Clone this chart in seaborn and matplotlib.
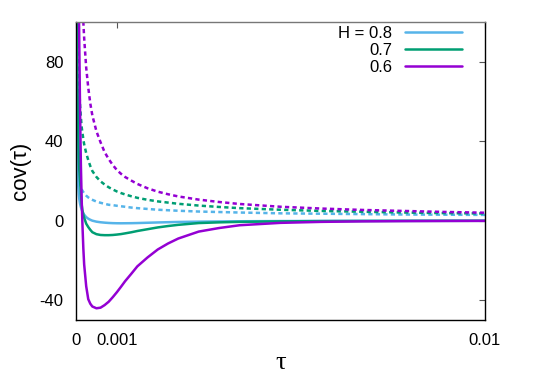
import matplotlib
matplotlib.use("Agg")
import matplotlib.pyplot as plt
import seaborn as sns

# tau grid (same for every curve)
tau = [0.000003, 0.00001, 0.00002, 0.00003, 0.00005, 0.00007, 0.00008, 0.0001,
       0.00012, 0.00014, 0.00016, 0.00018, 0.0002, 0.00025, 0.0003, 0.00035,
       0.0004, 0.0005, 0.0006, 0.0007, 0.0008, 0.0009, 0.001, 0.0011, 0.0012,
       0.00135, 0.0015, 0.00175, 0.002, 0.00225, 0.0025, 0.003, 0.0035, 0.004,
       0.005, 0.006, 0.007, 0.008, 0.009, 0.01]

# solid curves
solid_08 = [120, 65, 42, 31, 19, 13, 11, 8.5, 6.8, 5.5,
            4.5, 3.7, 3.0, 1.8, 1.0, 0.45, 0.0, -0.5, -0.8, -1.0,
            -1.15, -1.25, -1.3, -1.32, -1.3, -1.27, -1.2, -1.05, -0.9, -0.77,
            -0.65, -0.5, -0.4, -0.3, -0.2, -0.15, -0.1, -0.08, -0.06, -0.05]
solid_07 = [400, 200, 120, 85, 50, 32, 26, 20, 14, 8,
            5, 3, 1.5, -1.5, -3.2, -4.6, -5.8, -6.8, -7.2, -7.3,
            -7.3, -7.2, -7.0, -6.75, -6.4, -5.85, -5.2, -4.3, -3.4, -2.7,
            -2.1, -1.2, -0.85, -0.6, -0.35, -0.22, -0.15, -0.1, -0.08, -0.06]
solid_06 = [1500, 800, 450, 300, 165, 110, 90, 55, 28, 10,
            -3, -14, -22, -33, -39.5, -41.8, -43.2, -44.1, -43.8, -42.5,
            -40.8, -38.5, -36, -33.3, -30.5, -26.8, -23, -18.5, -14.5, -11.5,
            -9, -5.5, -3.7, -2.3, -1.1, -0.6, -0.35, -0.22, -0.15, -0.1]

# dashed curves
dashed_08 = [110, 50, 36, 30, 24, 21, 20, 18, 16.8, 15.8,
             15, 14.4, 13.8, 12.6, 11.7, 11.0, 10.5, 9.6, 9.0, 8.5,
             8.0, 7.8, 7.5, 7.25, 7.0, 6.6, 6.3, 5.9, 5.5, 5.25,
             5.0, 4.6, 4.35, 4.1, 3.7, 3.5, 3.3, 3.1, 3.0, 2.9]
dashed_07 = [500, 230, 152, 120, 87, 72, 67, 58, 52, 47,
             44, 41, 38.5, 34, 30.5, 27.5, 25, 22, 19.8, 18.2,
             16.8, 15.7, 14.7, 13.9, 13.2, 12.3, 11.5, 10.5, 9.7, 9.1,
             8.5, 7.6, 6.9, 6.3, 5.5, 4.9, 4.5, 4.1, 3.8, 3.6]
dashed_06 = [2500, 1000, 580, 420, 280, 215, 195, 160, 138, 122,
             110, 100, 92, 77, 67, 59, 53, 45, 39.5, 34.5,
             31, 28, 25.5, 23.6, 22, 20.2, 18.5, 16.3, 14.6, 13.3,
             12.2, 10.6, 9.4, 8.4, 7.0, 6.1, 5.4, 4.9, 4.4, 4.0]

labels = ["H = 0.8", "0.7", "0.6"]
colors = ["#56B4E9", "#009E73", "#9400D3"]
x_ticks = [0, 0.001, 0.01]
x_ticklabels = ["0", "0.001", "0.01"]
y_ticks = [-40, 0, 40, 80]

sns.set_style("white")
plt.rcParams["font.family"] = ["Liberation Sans", "DejaVu Sans"]
plt.rcParams["axes.unicode_minus"] = False
plt.rcParams["text.color"] = "black"
plt.rcParams["axes.labelcolor"] = "black"
plt.rcParams["xtick.labelcolor"] = "black"
plt.rcParams["ytick.labelcolor"] = "black"

fig = plt.figure(figsize=(5.45, 3.82), dpi=100)
ax = fig.add_axes([0.1394, 0.1623, 0.7505, 0.7801])

solids = [solid_08, solid_07, solid_06]
dashes = [dashed_08, dashed_07, dashed_06]

for vals, col in zip(dashes, colors):
    sns.lineplot(x=tau, y=vals, color=col, lw=1.8, ax=ax, sort=False,
                 linestyle=(0, (1.7, 1.3)), legend=False)
for vals, col, lab in zip(solids, colors, labels):
    sns.lineplot(x=tau, y=vals, color=col, lw=1.8, ax=ax, sort=False, label=lab)

ax.set_xlim(0, 0.01)
ax.set_ylim(-50, 100)
ax.set_xticks(x_ticks)
ax.set_xticklabels(x_ticklabels)
ax.set_yticks(y_ticks)
ax.tick_params(direction="in", top=True, right=True, length=4, width=0.8,
               color="#555555", labelsize=12, pad=9)

for s in ["left", "bottom", "right"]:
    ax.spines[s].set_color("black")
    ax.spines[s].set_linewidth(1.0)
ax.spines["top"].set_color("#777777")
ax.spines["top"].set_linewidth(1.0)

ax.set_xlabel("τ", fontsize=19, family=["Liberation Serif", "DejaVu Serif"], labelpad=3)
ax.set_ylabel("cov(τ)", fontsize=16, labelpad=6)

handles, labs = ax.get_legend_handles_labels()
ax.legend(handles, labs, loc="upper right", frameon=False, markerfirst=False,
          fontsize=12, handlelength=3.4, handletextpad=0.8, labelspacing=0.12,
          borderaxespad=0.3, bbox_to_anchor=(0.972, 1.025))

fig.savefig("out.png", dpi=100)
